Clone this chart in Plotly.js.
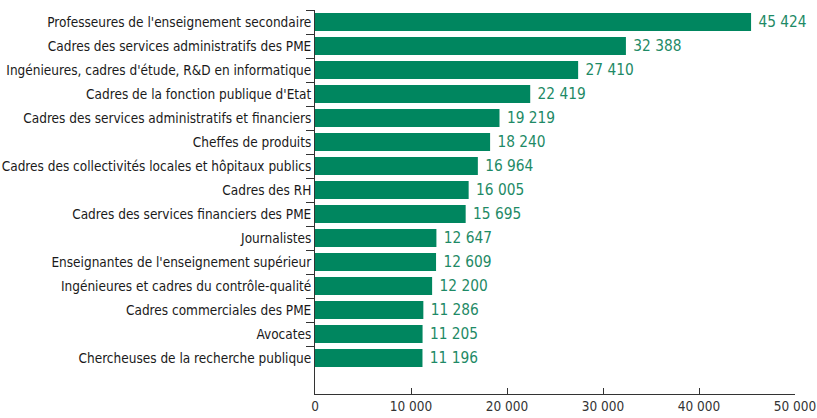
<!DOCTYPE html>
<html><head><meta charset="utf-8">
<script src="https://cdn.plot.ly/plotly-3.0.1.min.js"></script>
<style>html,body{margin:0;padding:0;background:#fff}#c{width:817px;height:418px}</style>
</head><body><div id="c"></div>
<script>
const categories = [
  "Professeures de l'enseignement secondaire",
  "Cadres des services administratifs des PME",
  "Ingénieures, cadres d'étude, R&D en informatique",
  "Cadres de la fonction publique d'Etat",
  "Cadres des services administratifs et financiers",
  "Cheffes de produits",
  "Cadres des collectivités locales et hôpitaux publics",
  "Cadres des RH",
  "Cadres des services financiers des PME",
  "Journalistes",
  "Enseignantes de l'enseignement supérieur",
  "Ingénieures et cadres du contrôle-qualité",
  "Cadres commerciales des PME",
  "Avocates",
  "Chercheuses de la recherche publique"
];
const values = [45424, 32388, 27410, 22419, 19219, 18240, 16964, 16005, 15695, 12647, 12609, 12200, 11286, 11205, 11196];
const xTicks = [0, 10000, 20000, 30000, 40000, 50000];

const green = '#00865F';
const fontFam = '"DejaVu Sans Condensed", "Liberation Sans Narrow", sans-serif';

Plotly.newPlot('c', [{
  type: 'bar', orientation: 'h',
  x: values, y: categories,
  marker: {color: green},
  texttemplate: ' %{x:,.0f}',
  textposition: 'outside',
  textfont: {color: '#1E8A66', size: 17, family: fontFam},
  cliponaxis: false,
  hoverinfo: 'none'
}], {
  width: 817, height: 418,
  margin: {l: 315, r: 22, t: 10, b: 24, pad: 0},
  separators: ', ',
  bargap: 0.25,
  showlegend: false,
  paper_bgcolor: '#fff', plot_bgcolor: '#fff',
  font: {family: fontFam, size: 14, color: '#222'},
  xaxis: {
    range: [0, 50000], tickvals: xTicks, tickformat: ',.0f',
    ticks: 'inside', ticklen: 6, tickcolor: '#333', tickwidth: 1,
    showline: true, linecolor: '#333', linewidth: 1,
    showgrid: false, zeroline: false, ticklabeloverflow: 'allow',
    tickfont: {size: 13.5, color: '#333', family: fontFam}
  },
  yaxis: {
    type: 'category', range: [15.5, -0.5],
    tickson: 'boundaries', ticks: 'outside', ticklen: 8, tickcolor: '#333',
    showline: true, linecolor: '#333', linewidth: 1,
    showgrid: false, zeroline: false,
    tickfont: {size: 13.5, color: '#1a1a1a', family: fontFam}
  }
}, {staticPlot: true});
</script></body></html>
